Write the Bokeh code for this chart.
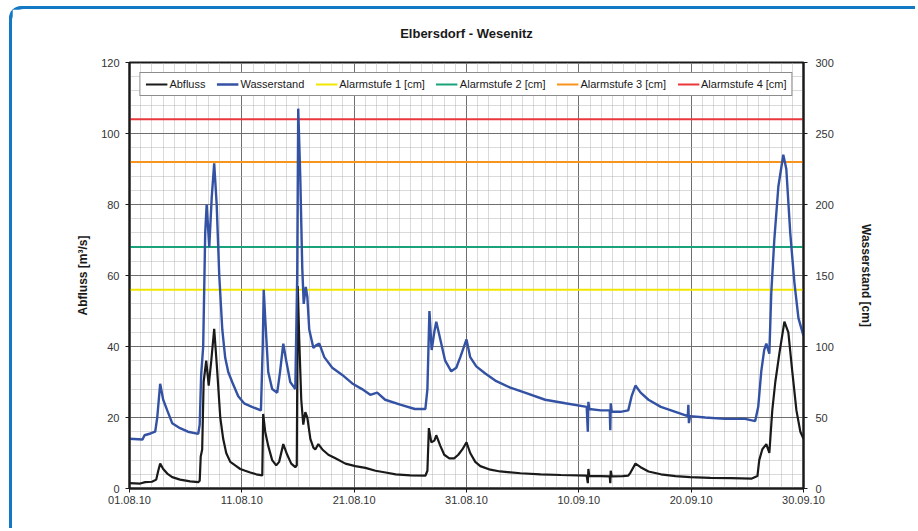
from bokeh.plotting import figure
from bokeh.models import (Range1d, LinearAxis, FixedTicker, Legend, LegendItem, Title)
from bokeh.embed import file_html
from bokeh.resources import INLINE

# ---------------- data ----------------
x_tick_days = [0, 10, 20, 30, 40, 50, 60]
x_tick_labels = ["01.08.10", "11.08.10", "21.08.10", "31.08.10", "10.09.10", "20.09.10", "30.09.10"]

abfluss_day = [0, 0.95, 1.4, 2.0, 2.38, 2.56, 2.73, 3.0, 3.36, 3.8, 4.5, 5.4, 6.12, 6.25, 6.34, 6.47,
               6.6, 6.83, 7.05, 7.28, 7.54, 7.81, 8.08, 8.34, 8.61, 8.97, 9.41, 9.86, 10.3, 10.75,
               11.28, 11.82, 11.9, 12.08, 12.35, 12.7, 13.06, 13.32, 13.69, 14.04, 14.4, 14.76,
               14.89, 14.98, 15.11, 15.29, 15.47, 15.65, 15.83, 16.1, 16.37, 16.54, 16.81, 17.17,
               17.7, 18.33, 19.22, 20.1, 21.0, 21.9, 22.8, 23.7, 25.0, 26.34, 26.52, 26.65, 26.87,
               27.14, 27.31, 27.67, 28.02, 28.47, 28.9, 29.27, 29.63, 30.0, 30.33, 30.78, 31.23,
               32.12, 33.0, 34.8, 36.6, 38.4, 40.7, 40.8, 40.85, 40.93, 41.95, 42.75, 42.8, 42.84,
               42.93, 43.9, 44.4, 44.6, 45.04, 45.5, 46.2, 47.3, 48.6, 49.9, 51.7, 53.5, 55.4,
               55.9, 56.06, 56.33, 56.69, 56.96, 57.22, 57.49, 57.85, 58.3, 58.65, 59.0, 59.37,
               59.72, 60.0]
abfluss_val = [1.5, 1.4, 1.8, 1.9, 2.5, 5, 7, 5.5, 4.2, 3.2, 2.5, 2.0, 1.8, 2.2, 9, 11,
               30, 36, 29, 36, 45, 33, 20, 14, 10, 7.5, 6.5, 5.5, 5, 4.5,
               4, 3.7, 21, 16, 12, 8, 6.5, 7.5, 12.5, 9.5, 7, 6,
               6.5, 57, 42, 25, 18, 21.5, 20, 14, 11.5, 11, 12.5, 11,
               9.5, 8.5, 7, 6.3, 5.8, 5, 4.5, 4, 3.7, 3.6, 5, 17, 13,
               13.5, 15, 12, 9.5, 8.5, 8.5, 9.5, 11, 13, 10, 7.5, 6.3,
               5.3, 4.8, 4.3, 4.0, 3.8, 3.6, 1.5, 5.5, 3.5, 3.5, 3.4, 1.5, 5,
               3.4, 3.5, 3.6, 4.5, 7, 6, 4.8, 4.0, 3.5, 3.2, 3.0, 2.9, 2.8,
               3.5, 8, 11, 12.5, 10, 22, 30, 38, 47, 44, 33, 22,
               16, 14]

wasser_day = [0, 1.16, 1.34, 1.87, 2.29, 2.47, 2.73, 3.0, 3.36, 3.8, 4.5, 5.2, 6.12, 6.25, 6.38,
              6.56, 6.74, 6.87, 7.1, 7.32, 7.54, 7.76, 7.99, 8.26, 8.52, 8.79, 9.14, 9.68, 10.2,
              10.9, 11.7, 11.86, 11.95, 12.08, 12.35, 12.7, 13.15, 13.4, 13.69, 13.95, 14.31,
              14.76, 14.93, 15.02, 15.2, 15.38, 15.51, 15.69, 15.83, 16.0, 16.37, 16.63, 16.9,
              17.34, 18.05, 18.94, 19.83, 20.7, 21.43, 22.05, 22.76, 24.1, 25.4, 26.34, 26.52,
              26.7, 26.9, 27.13, 27.31, 27.67, 28.1, 28.64, 29.09, 29.45, 30.0, 30.33, 30.87,
              31.67, 32.56, 33.9, 35.2, 37.0, 38.8, 40.7, 40.8, 40.85, 40.93, 41.95, 42.75, 42.8,
              42.84, 42.93, 43.7, 44.4, 44.7, 45.04, 45.5, 46.2, 47.3, 48.6, 49.7, 49.75, 49.8,
              49.9, 51.25, 53.0, 54.8, 55.7, 55.97, 56.24, 56.5, 56.69, 56.96, 57.13, 57.4,
              57.76, 58.2, 58.47, 58.82, 59.19, 59.55, 60.0]
wasser_cm = [35, 34.5, 37.5, 38.75, 40, 50, 73.75, 62.5, 55, 46, 42.5, 40, 38.5, 45, 80,
             100, 180, 200, 170, 205, 229, 200, 150, 112, 92, 82, 75, 65, 60,
             57.5, 55, 100, 140, 120, 82, 70, 67.5, 82, 102, 90, 75,
             70, 150, 267.5, 220, 155, 130, 142, 135, 112, 99, 101, 102,
             92.5, 85, 80, 74, 70, 66, 67.5, 62.5, 59, 56, 56, 70,
             125, 97.5, 110, 117.5, 105, 90, 82.5, 85, 92.5, 105, 92.5, 86,
             81, 76, 71, 67.5, 62.5, 60, 57.5, 40, 61, 56, 55, 55, 41,
             60, 54, 54, 55, 65, 72.5, 67.5, 62.5, 57.5, 54, 51, 59, 46,
             51, 50, 49, 49, 47.5, 57.5, 82.5, 97.5, 102, 95, 137.5, 175,
             212.5, 235, 225, 180, 145, 120, 107.5]

alarm_names = ["Alarmstufe 1 [cm]", "Alarmstufe 2 [cm]", "Alarmstufe 3 [cm]", "Alarmstufe 4 [cm]"]
alarm_cm = [140, 170, 230, 260]
alarm_colors = ["#f2e600", "#1aa37a", "#f7941d", "#e8383d"]

left_ticks = [0, 20, 40, 60, 80, 100, 120]
left_minor = list(range(0, 121, 4))
right_ticks = [0, 50, 100, 150, 200, 250, 300]

title_text = "Elbersdorf - Wesenitz"

FONT = "Liberation Sans"

# ---------------- figure ----------------
p = figure(width=906, height=522, output_backend="svg", toolbar_location=None,
           x_range=Range1d(0, 60), y_range=Range1d(0, 120),
           min_border_left=117, min_border_right=115, min_border_top=53, min_border_bottom=43,
           background_fill_color="white", border_fill_color="white",
           styles={"margin-left": "12px", "margin-top": "9px",
                   "border-top-left-radius": "12px",
                   "box-shadow": "-3px -3px 0 0 #1479c4"})
p.extra_y_ranges = {"cm": Range1d(0, 300)}

p.title = Title(text=title_text, align="center", text_font=FONT,
                text_font_size="13px", text_font_style="bold", text_color="#1a1a1a",
                standoff=0)
# spacer between title and plot frame
p.add_layout(Title(text=" ", text_font_size="1px", standoff=19), "above")

p.outline_line_color = "#1a1a1a"
p.outline_line_width = 2

# grids
day_minor = list(range(0, 61))
p.xaxis.ticker = FixedTicker(ticks=x_tick_days, minor_ticks=day_minor)
p.yaxis.ticker = FixedTicker(ticks=left_ticks, minor_ticks=left_minor)
for g in (p.xgrid[0], p.ygrid[0]):
    g.grid_line_color = "#6e6e6e"
    g.grid_line_width = 1
    g.minor_grid_line_color = "#b4b4b4"
    g.minor_grid_line_dash = "1 1"
    g.minor_grid_line_width = 1
    g.level = "underlay"

# axes styling
def style_axis(ax):
    ax.axis_line_color = "#1a1a1a"
    ax.axis_line_width = 2
    ax.major_tick_line_color = "#1a1a1a"
    ax.major_tick_in = 0
    ax.major_tick_out = 4
    ax.minor_tick_line_color = None
    ax.major_label_text_font = FONT
    ax.major_label_text_font_size = "11px"
    ax.major_label_text_color = "#333333"
    ax.axis_label_text_font = FONT
    ax.axis_label_text_font_size = "12px"
    ax.axis_label_text_font_style = "bold"
    ax.axis_label_text_color = "#1a1a1a"

style_axis(p.xaxis[0])
style_axis(p.yaxis[0])
p.xaxis[0].major_label_overrides = {d: l for d, l in zip(x_tick_days, x_tick_labels)}
p.xaxis[0].major_label_standoff = 3
p.yaxis[0].axis_label = "Abfluss [m³/s]"
p.yaxis[0].major_label_standoff = 6
p.yaxis[0].axis_label_standoff = 8

right_axis = LinearAxis(y_range_name="cm", ticker=FixedTicker(ticks=right_ticks),
                        axis_label="Wasserstand [cm]")
style_axis(right_axis)
right_axis.major_label_standoff = 8
right_axis.axis_label_standoff = 22
p.add_layout(right_axis, "right")

# lines
alarm_renderers = []
for name, v, c in zip(alarm_names, alarm_cm, alarm_colors):
    r = p.line([0, 60], [v, v], y_range_name="cm", line_color=c, line_width=2)
    alarm_renderers.append(r)

r_abf = p.line(abfluss_day, abfluss_val, line_color="#1a1a1a", line_width=2.2)
r_ws = p.line(wasser_day, wasser_cm, y_range_name="cm", line_color="#3452a4", line_width=2.4)

items = [LegendItem(label="Abfluss", renderers=[r_abf]),
         LegendItem(label="Wasserstand", renderers=[r_ws])]
items += [LegendItem(label=n, renderers=[r]) for n, r in zip(alarm_names, alarm_renderers)]
legend = Legend(items=items, orientation="horizontal", location="top_center",
                label_text_font=FONT, label_text_font_size="11px", label_text_color="#1a1a1a",
                glyph_width=22, glyph_height=10, label_standoff=2, spacing=11,
                padding=5, margin=10, border_line_color="#1a1a1a", border_line_width=1,
                background_fill_color="white", background_fill_alpha=1,
                label_height=12)
p.add_layout(legend, "center")

open("out.html", "w").write(file_html(p, INLINE))
